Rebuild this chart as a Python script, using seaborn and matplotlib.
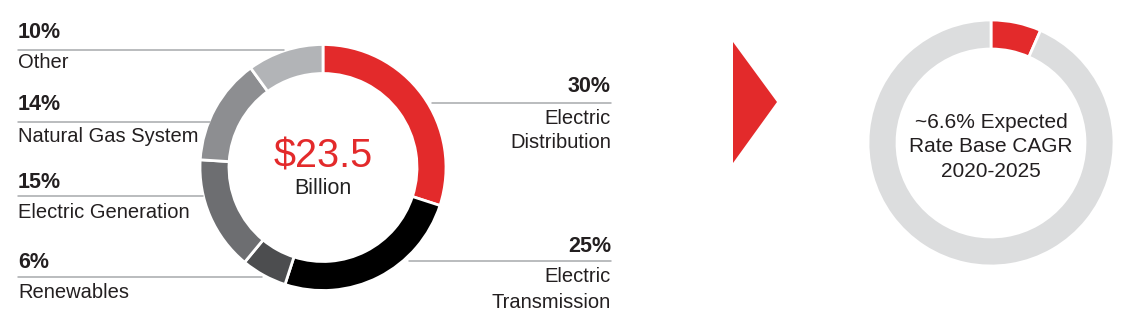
import matplotlib
matplotlib.use("Agg")
import matplotlib.pyplot as plt
import seaborn as sns
from matplotlib.patches import Polygon

sns.set_theme(style="white")
plt.rcParams['font.family'] = ['Liberation Sans', 'DejaVu Sans']

# ---- data ----
categories = ["Electric\nDistribution", "Electric\nTransmission", "Renewables",
              "Electric Generation", "Natural Gas System", "Other"]
shares = [30, 25, 6, 15, 14, 10]
seg_colors = ["#E32A2B", "#000000", "#4C4D4F", "#6D6E71", "#8D8E91", "#B2B4B7"]
total_label = "$23.5"
total_unit = "Billion"

cagr_values = [6.6, 93.4]
cagr_colors = ["#E32A2B", "#DCDDDE"]
cagr_text = "~6.6% Expected\nRate Base CAGR\n2020-2025"

W, H = 1129, 331
fig = plt.figure(figsize=(W / 100, H / 100), dpi=100)
ax = fig.add_axes([0, 0, 1, 1])

def Y(y):
    return H - y

def reset():
    ax.set_xlim(0, W)
    ax.set_ylim(0, H)
    ax.set_aspect("equal")
    ax.axis("off")

# left donut
ax.pie(shares, colors=seg_colors, startangle=90, counterclock=False,
       center=(323, Y(167.5)), radius=123, frame=True,
       wedgeprops=dict(width=29, edgecolor="white", linewidth=2))
reset()

ax.text(323, Y(156), total_label, color="#E32A2B", fontsize=28.5,
        ha="center", va="center")
ax.text(323, Y(188), total_unit, color="#222222", fontsize=15.5,
        ha="center", va="center")

line_c = "#A7A9AC"
txt_c = "#231F20"
fs = 14.5
fs_pct = 15.5

# left labels: (share index, pct y, line y, line x end, name y)
left = [(5, 33, 50, 284, 63), (4, 105, 122, 210, 136),
        (3, 182, 196, 203, 212), (2, 262, 277, 262, 292)]
for i, py, ly, lx, ny in left:
    ax.text(18, Y(py), f"{shares[i]}%", fontsize=fs_pct, fontweight="bold",
            color=txt_c, ha="left", va="center")
    ax.plot([18, lx], [Y(ly), Y(ly)], color=line_c, lw=1.1)
    ax.text(18, Y(ny), categories[i], fontsize=fs, color=txt_c,
            ha="left", va="center")

# right labels
right = [(0, 87, 103, 432, 130.5), (1, 247, 261, 409, 289.5)]
for i, py, ly, lx, ny in right:
    ax.text(611, Y(py), f"{shares[i]}%", fontsize=fs_pct, fontweight="bold",
            color=txt_c, ha="right", va="center")
    ax.plot([lx, 611], [Y(ly), Y(ly)], color=line_c, lw=1.1)
    ax.text(611, Y(ny), categories[i], fontsize=fs, color=txt_c,
            ha="right", va="center", linespacing=1.4)

# arrow triangle
ax.add_patch(Polygon([(733, Y(42)), (777, Y(102)), (733, Y(163))],
                     closed=True, color="#E32A2B", lw=0))

# right donut
ax.pie(cagr_values, colors=cagr_colors, startangle=90, counterclock=False,
       center=(991, Y(143)), radius=123, frame=True,
       wedgeprops=dict(width=29, edgecolor="white", linewidth=2))
reset()
ax.text(991, Y(147), cagr_text, fontsize=15, color=txt_c,
        ha="center", va="center", linespacing=1.35)

fig.savefig("out.png", dpi=100, facecolor="white")
